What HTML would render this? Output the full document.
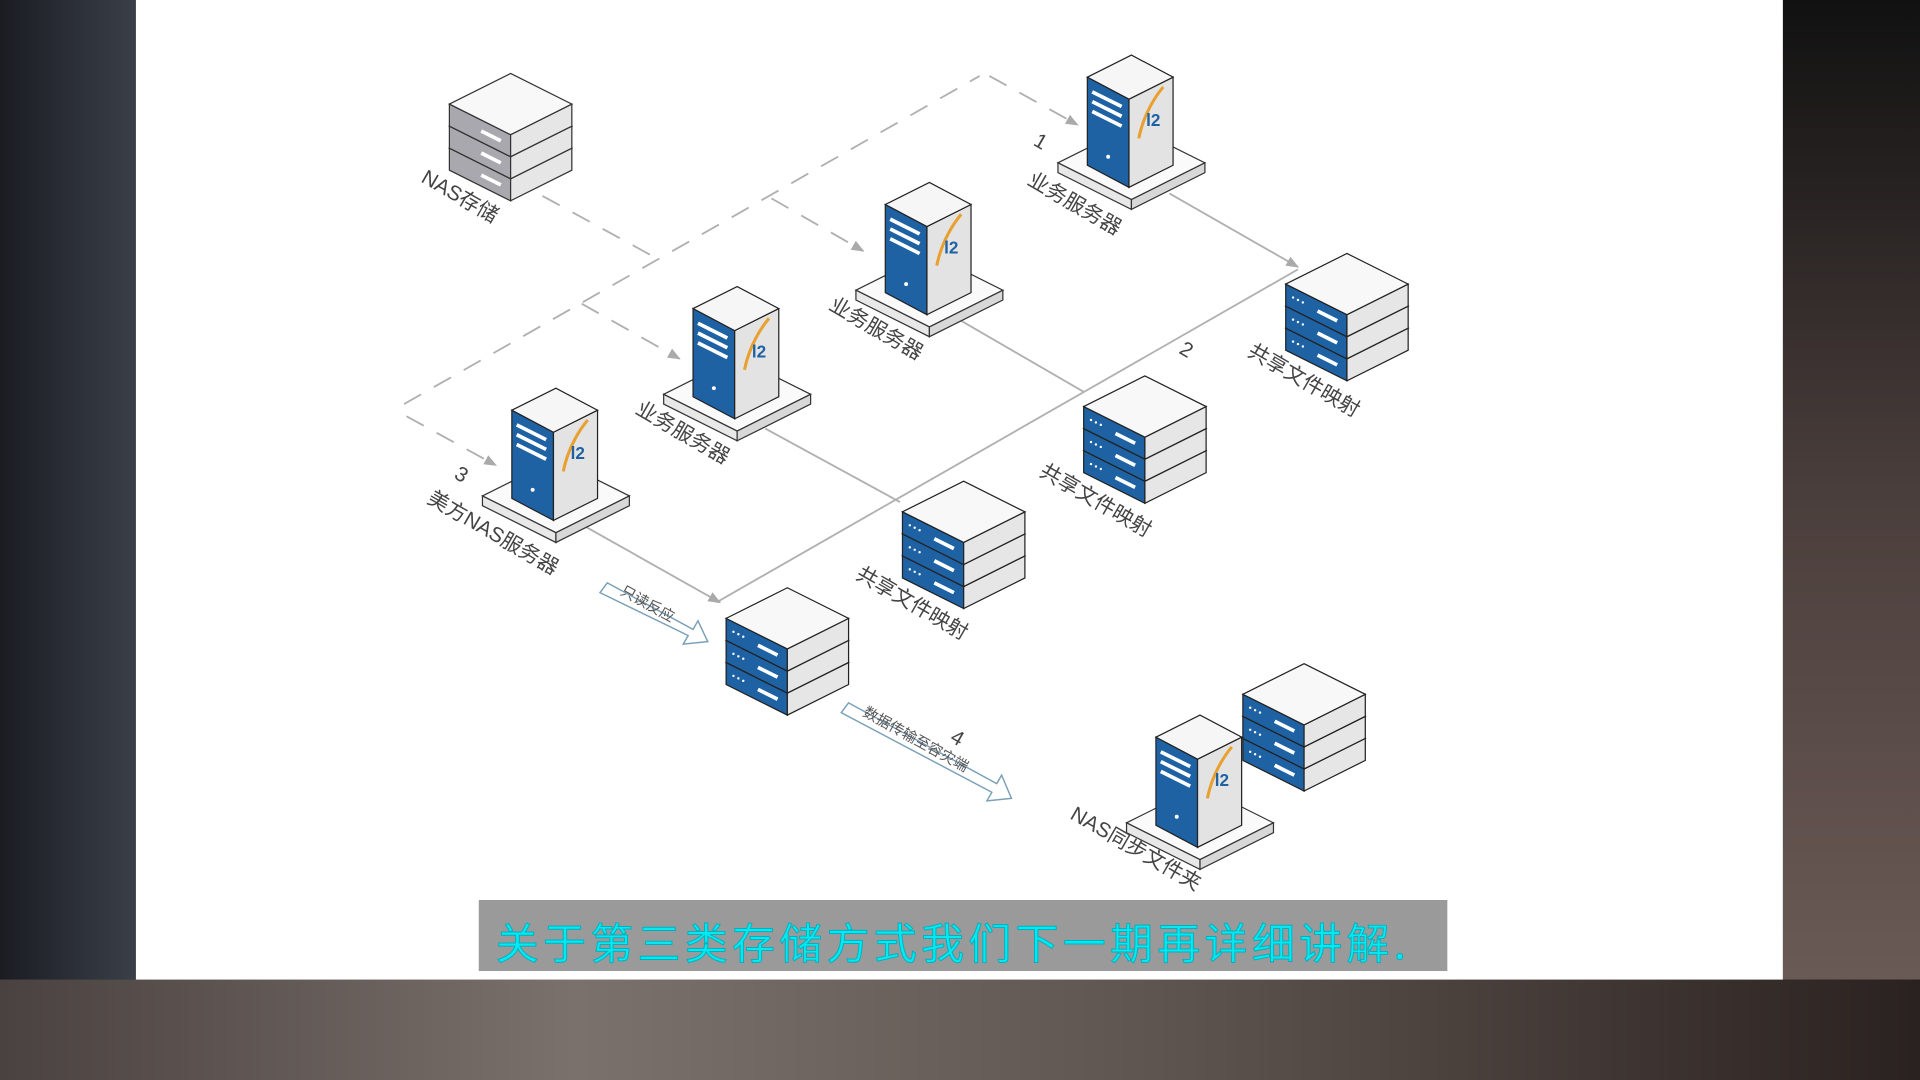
<!DOCTYPE html>
<html><head><meta charset="utf-8"><style>
html,body{margin:0;padding:0;width:1920px;height:1080px;overflow:hidden;background:#222}
svg{display:block}
</style></head><body>
<svg width="1920" height="1080" viewBox="0 0 1568 882" xmlns="http://www.w3.org/2000/svg">
<defs>
<linearGradient id="bl" x1="0" x2="1"><stop offset="0" stop-color="#1a1c22"/><stop offset="1" stop-color="#3a3f48"/></linearGradient>
<linearGradient id="bt" x1="0" y1="0" x2="1" y2="0"><stop offset="0" stop-color="#4a4240"/><stop offset="0.3" stop-color="#7a716c"/><stop offset="0.6" stop-color="#5f5550"/><stop offset="1" stop-color="#2a2220"/></linearGradient>
<linearGradient id="rt" x1="0" y1="0" x2="0" y2="1"><stop offset="0" stop-color="#111"/><stop offset="0.5" stop-color="#4a3e3c"/><stop offset="1" stop-color="#6a5a55"/></linearGradient>
<marker id="ar" viewBox="0 0 10 10" refX="9" refY="5" markerWidth="7" markerHeight="7" orient="auto"><path d="M0,1 L10,5 L0,9 z" fill="#aaa"/></marker>
<g id="tower">
  <polygon points="-58,0 2,-30 62,0 2,30" fill="#fafafa" stroke="#333" stroke-width="1"/>
  <polygon points="-58,0 2,30 2,38 -58,8" fill="#e8e8e8" stroke="#333" stroke-width="1"/>
  <polygon points="2,30 62,0 62,8 2,38" fill="#d8d8d8" stroke="#333" stroke-width="1"/>
  <polygon points="-34,-70 0,-52 0,20 -34,2" fill="#1e62a4" stroke="#222" stroke-width="1"/>
  <polygon points="0,-52 36,-70 36,2 0,20" fill="#e3e3e3" stroke="#222" stroke-width="1"/>
  <polygon points="-34,-70 2,-88 36,-70 0,-52" fill="#f6f6f6" stroke="#222" stroke-width="1"/>
  <line x1="-30" y1="-58" x2="-6" y2="-46" stroke="#fff" stroke-width="3"/>
  <line x1="-30" y1="-50" x2="-6" y2="-38" stroke="#fff" stroke-width="3"/>
  <line x1="-30" y1="-42" x2="-6" y2="-30" stroke="#fff" stroke-width="3"/>
  <circle cx="-17" cy="-5" r="1.6" fill="#fff"/>
  <path d="M8,-20 C12,-40 22,-55 28,-62" stroke="#e8a030" stroke-width="2.5" fill="none"/>
  <text x="14" y="-30" font-family="Liberation Sans, sans-serif" font-size="14" font-weight="bold" fill="#1e62a4">l2</text>
</g>
<g id="layer">
  <polygon points="-50,0 0,25 0,43 -50,18" fill="#1e62a4" stroke="#222" stroke-width="1"/>
  <polygon points="0,25 50,0 50,18 0,43" fill="#e6e6e6" stroke="#222" stroke-width="1"/>
  <polygon points="-50,0 0,-25 50,0 0,25" fill="#f8f8f8" stroke="#222" stroke-width="1"/>
  <line x1="-24" y1="22" x2="-8" y2="30" stroke="#fff" stroke-width="3"/>
  <circle cx="-44" cy="11" r="1" fill="#fff"/><circle cx="-40" cy="13" r="1" fill="#fff"/><circle cx="-36" cy="15" r="1" fill="#fff"/>
</g>
<g id="stack"><use href="#layer" y="36"/><use href="#layer" y="18"/><use href="#layer"/></g>
<g id="glayer">
  <polygon points="-50,0 0,25 0,43 -50,18" fill="#a8a8ae" stroke="#333" stroke-width="1"/>
  <polygon points="0,25 50,0 50,18 0,43" fill="#e6e6e6" stroke="#333" stroke-width="1"/>
  <polygon points="-50,0 0,-25 50,0 0,25" fill="#f8f8f8" stroke="#333" stroke-width="1"/>
  <line x1="-24" y1="22" x2="-8" y2="30" stroke="#fff" stroke-width="3"/>
</g>
<g id="gstack"><use href="#glayer" y="36"/><use href="#glayer" y="18"/><use href="#glayer"/></g>
</defs>
<rect width="1568" height="882" fill="#2a2a2e"/>
<rect x="0" y="0" width="111" height="800" fill="url(#bl)"/>
<rect x="1456" y="0" width="112" height="800" fill="url(#rt)"/>
<rect x="0" y="800" width="1568" height="82" fill="url(#bt)"/>
<rect x="111" y="0" width="1345" height="800" fill="#ffffff"/>

<g stroke="#b0b0b0" stroke-width="1.5" fill="none">
  <path d="M330,330 L800,62" stroke-dasharray="16,12"/>
  <path d="M808,62 L880,102" stroke-dasharray="16,12" marker-end="url(#ar)"/>
  <path d="M443,160 L540,213" stroke-dasharray="16,12"/>
  <path d="M630,162 L705,205" stroke-dasharray="16,12" marker-end="url(#ar)"/>
  <path d="M475,248 L555,293" stroke-dasharray="16,12" marker-end="url(#ar)"/>
  <path d="M332,340 L405,380" stroke-dasharray="16,12" marker-end="url(#ar)"/>
  <path d="M955,158 L1060,218" marker-end="url(#ar)"/>
  <path d="M585,492 L1060,220"/>
  <path d="M785,262 L885,320"/>
  <path d="M625,350 L735,410"/>
  <path d="M478,430 L588,492" marker-end="url(#ar)"/>
</g>

<use href="#gstack" x="417" y="85"/>
<use href="#tower" x="922" y="133"/>
<use href="#tower" x="757" y="237"/>
<use href="#tower" x="600" y="322"/>
<use href="#tower" x="452" y="405"/>
<use href="#stack" x="1100" y="232"/>
<use href="#stack" x="935" y="332"/>
<use href="#stack" x="787" y="418"/>
<use href="#stack" x="643" y="505"/>
<use href="#stack" x="1065" y="567"/>
<use href="#tower" x="978" y="672"/>

<g font-family="Liberation Sans, 'Noto Sans CJK SC', sans-serif" font-size="17" fill="#444">
  <text transform="translate(343,148) rotate(30)">NAS存储</text>
  <text transform="translate(838,150) rotate(30)">业务服务器</text>
  <text transform="translate(676,252) rotate(30)">业务服务器</text>
  <text transform="translate(518,337) rotate(30)">业务服务器</text>
  <text transform="translate(348,410) rotate(30)">美方NAS服务器</text>
  <text transform="translate(1018,290) rotate(30)">共享文件映射</text>
  <text transform="translate(848,388) rotate(30)">共享文件映射</text>
  <text transform="translate(698,472) rotate(30)">共享文件映射</text>
  <text transform="translate(873,668) rotate(30)">NAS同步文件夹</text>
  <text transform="translate(843,118) rotate(30)">1</text>
  <text transform="translate(962,288) rotate(30)">2</text>
  <text transform="translate(370,390) rotate(30)">3</text>
  <text transform="translate(775,605) rotate(30)">4</text>
</g>
<g fill="#fff" stroke="#7aa0b8" stroke-width="1.2">
  <polygon points="496,476 566,514 570,507 578,524 558,526 562,519 490,484"/>
  <polygon points="693,574 814,640 818,633 826,652 806,654 810,647 687,582"/>
</g>
<g font-family="Liberation Sans, 'Noto Sans CJK SC', sans-serif" font-size="12" fill="#555">
  <text transform="translate(506,485) rotate(29)">只读反应</text>
  <text transform="translate(704,584) rotate(29)">数据传输至容灾端</text>
</g>

<rect x="391" y="735" width="791" height="58" fill="#9a9a9a"/>
<text x="405" y="783" font-family="'Noto Sans CJK SC', sans-serif" font-size="35" letter-spacing="3.6" fill="#00eaf2" stroke="#00b0c0" stroke-width="0.8">关于第三类存储方式我们下一期再详细讲解.</text>
</svg>
</body></html>
